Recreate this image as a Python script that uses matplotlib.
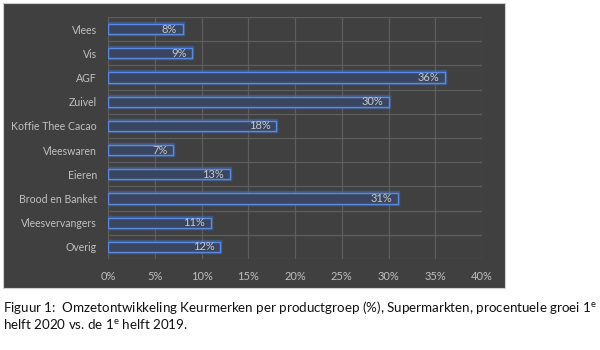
import matplotlib
matplotlib.use("Agg")
import matplotlib.pyplot as plt
import matplotlib.patheffects as pe
from matplotlib.patches import Rectangle
import numpy as np

categories = ["Vlees", "Vis", "AGF", "Zuivel", "Koffie Thee Cacao", "Vleeswaren",
              "Eieren", "Brood en Banket", "Vleesvervangers", "Overig"]
values = [8, 9, 36, 30, 18, 7, 13, 31, 11, 12]
xticks = [0, 5, 10, 15, 20, 25, 30, 35, 40]
xtick_labels = ["0%", "5%", "10%", "15%", "20%", "25%", "30%", "35%", "40%"]

W, H = 600, 350
fig = plt.figure(figsize=(6, 3.5), dpi=100)
fig.patch.set_facecolor("white")

# dark chart panel
panel = Rectangle((3 / W, 1 - 288 / H), (505 - 3) / W, (288 - 3) / H,
                  transform=fig.transFigure, facecolor="#404040",
                  edgecolor="#d0d0d0", linewidth=0.8, zorder=-10)
fig.add_artist(panel)

ax = fig.add_axes([108 / W, 1 - 259 / H, (482 - 108) / W, (259 - 17) / H])
ax.set_facecolor("none")
ax.set_zorder(1)

y = np.arange(len(categories))
bars = ax.barh(y, values, height=0.42, color="#3a4660", edgecolor="#5a8ae0",
               linewidth=1.0, zorder=3)
for b in bars:
    b.set_path_effects([pe.Stroke(linewidth=3.2, foreground="#3f6cc0", alpha=0.5),
                        pe.Normal()])

for yi, v in zip(y, values):
    ax.annotate(f"{v}%", xy=(v, yi), xytext=(-4, 0), textcoords="offset points",
                ha="right", va="center", color="#c8c8c8", fontsize=8,
                family="Lato", zorder=4)

ax.set_xlim(0, 40)
ax.set_ylim(len(categories) - 0.5, -0.5)
ax.set_xticks(xticks)
ax.set_xticklabels(xtick_labels)
ax.set_yticks(y)
ax.set_yticklabels(categories)
ax.set_yticks(np.arange(-0.5, len(categories), 1.0), minor=True)
ax.tick_params(axis="both", which="both", length=0, colors="#c0c0c0", labelsize=8)
ax.tick_params(axis="y", pad=8, labelsize=7.6)
ax.tick_params(axis="x", pad=9)
for lab in ax.get_xticklabels() + ax.get_yticklabels():
    lab.set_family("Lato")
ax.grid(True, axis="x", which="major", color="#5e5e5e", linewidth=0.9, zorder=1)
ax.grid(True, axis="y", which="minor", color="#5e5e5e", linewidth=0.9, zorder=1)
ax.grid(False, axis="y", which="major")
ax.set_axisbelow(True)
for s in ax.spines.values():
    s.set_visible(False)

cap1 = r"Figuur 1:  Omzetontwikkeling Keurmerken per productgroep (%), Supermarkten, procentuele groei 1$^{\mathregular{e}}$"
cap2 = r"helft 2020 vs. de 1$^{\mathregular{e}}$ helft 2019."
fig.text(3 / W, 1 - 308 / H, cap1, ha="left", va="center", fontsize=9.6,
         family="Lato", color="#111111")
fig.text(3 / W, 1 - 324 / H, cap2, ha="left", va="center", fontsize=9.6,
         family="Lato", color="#111111")

fig.savefig("out.png", dpi=100, facecolor=fig.get_facecolor())
